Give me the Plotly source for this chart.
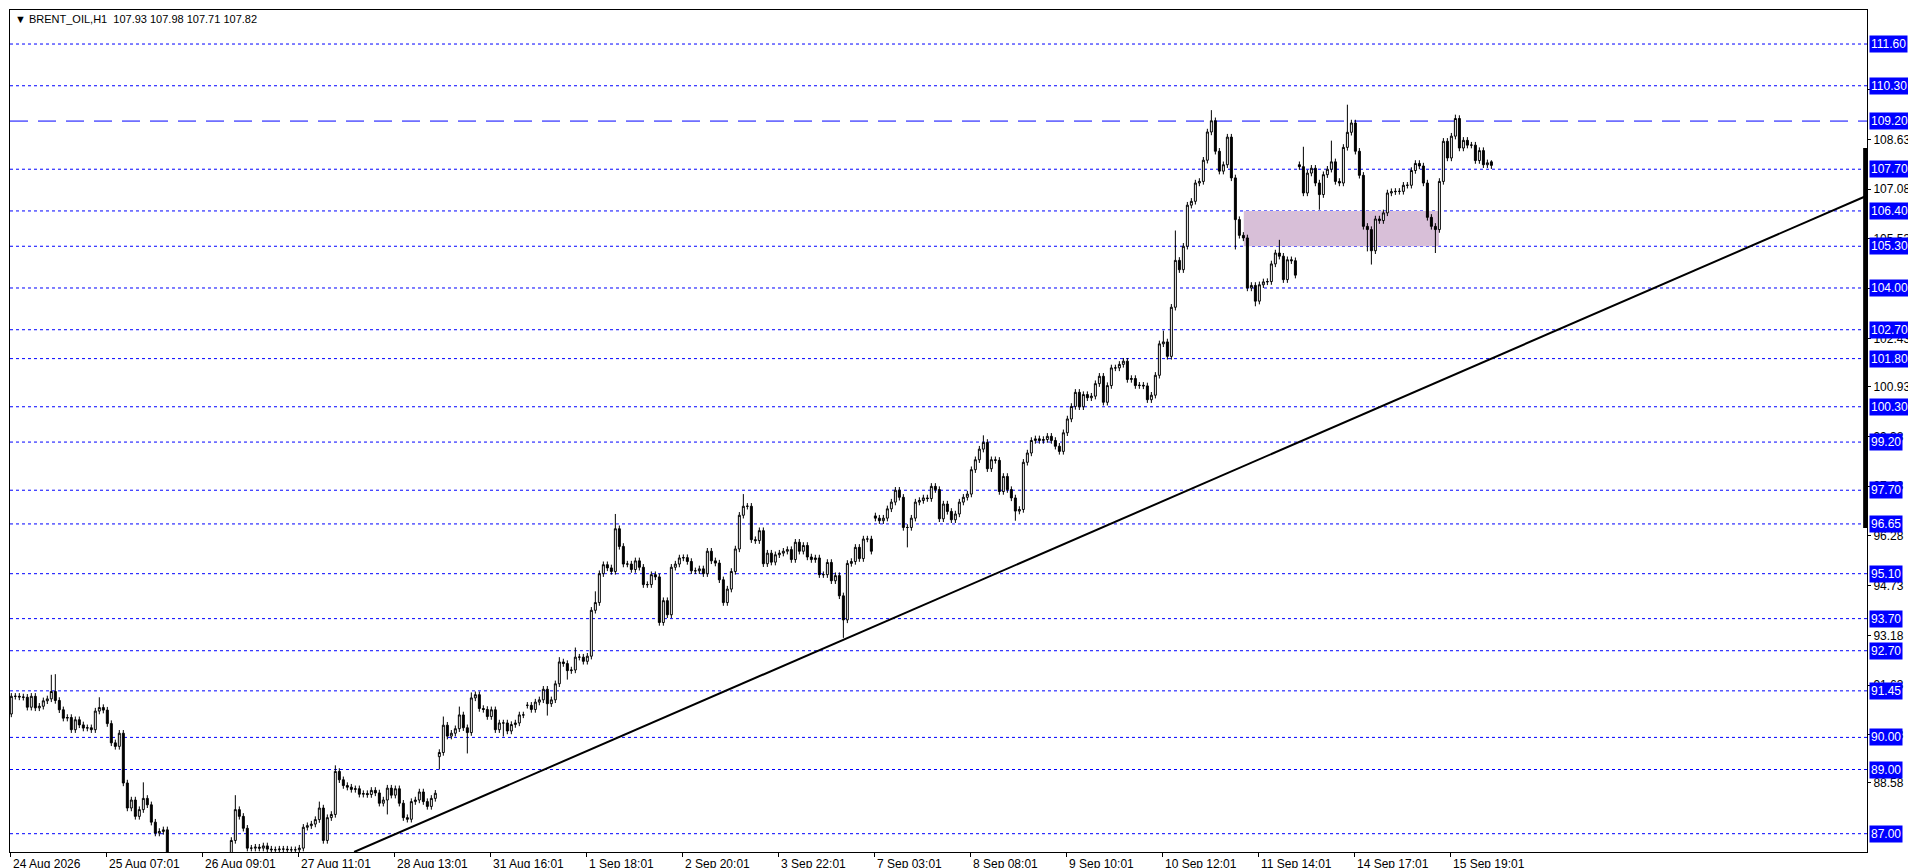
import plotly.graph_objects as go

closes = [
91.28, 91.28, 91.26, 91.25, 90.94, 91.28, 90.92, 90.97, 91.14, 91.2,
91.43, 91.15, 90.86, 90.6, 90.62, 90.24, 90.55, 90.39, 90.29, 90.3,
90.24, 90.82, 90.93, 90.85, 90.43, 89.83, 89.72, 90.13, 88.58, 87.8,
88.05, 87.54, 87.75, 88.1, 87.9, 87.36, 87.02, 87.07, 87.12, 86.3,
86.0, 85.8, 85.9, 85.7, 85.6, 85.8, 85.9, 86.0, 85.9, 86.1,
86.0, 86.2, 86.1, 86.0, 86.3,
86.79, 87.75, 87.54, 87.17, 86.55,
86.55, 86.58, 86.55, 86.62, 86.52, 86.5, 86.5, 86.52, 86.52, 86.5,
86.5, 86.5, 86.55, 87.2, 87.25, 87.3, 87.44, 87.8, 86.79, 87.5,
87.6, 88.94, 88.68, 88.5, 88.45, 88.38, 88.4, 88.23, 88.25, 88.22,
88.35, 88.27, 87.95, 88.05, 88.42, 88.2, 88.4, 87.95, 87.5, 87.45,
88.0, 88.05, 88.3, 88.0, 87.85, 88.1, 88.26, 89.53, 90.38, 90.04,
90.13, 90.27, 90.7, 90.3, 90.15, 91.23, 91.33, 90.9, 90.87, 90.65,
90.86, 90.24, 90.45, 90.45, 90.2, 90.4, 90.45, 90.7, 90.7, 91.0,
90.87, 91.1, 91.17, 91.5, 91.05, 91.17, 91.67, 92.35, 92.3, 92.08,
92.1, 92.5, 92.5, 92.37, 92.53, 93.96, 94.2, 95.1, 95.38, 95.28,
95.17, 96.5, 95.95, 95.4, 95.4, 95.23, 95.5, 95.3, 94.76, 94.76,
95.07, 95.0, 93.58, 94.26, 93.82, 95.3, 95.4, 95.59, 95.6, 95.48,
95.19, 95.19, 95.25, 95.1, 95.8, 95.5, 95.43, 94.91, 94.2, 94.62,
95.17, 95.87, 96.92, 97.2, 97.2, 96.16, 96.13, 96.44, 95.41, 95.74,
95.46, 95.69, 95.74, 95.8, 95.85, 95.54, 96.08, 95.8, 95.98, 95.62,
95.54, 95.59, 95.07, 95.07, 95.45, 94.88, 95.04, 94.41, 93.66, 95.42,
95.48, 95.92, 95.57, 96.18, 96.18, 95.8, 96.83, 96.75, 96.83, 97.12,
97.33, 97.7, 97.48, 96.54, 96.54, 96.83, 97.33, 97.38, 97.46, 97.44,
97.82, 97.72, 96.81, 97.27, 97.04, 96.78, 96.96, 97.33, 97.48, 97.58,
98.34, 98.65, 98.98, 99.19, 98.37, 98.65, 98.63, 97.66, 98.13, 97.72,
97.46, 97.05, 97.1, 98.57, 98.86, 99.25, 99.3, 99.25, 99.28, 99.38,
99.25, 99.07, 98.91, 99.49, 99.92, 100.31, 100.75, 100.3, 100.68, 100.58,
100.63, 101.02, 101.25, 100.44, 100.96, 101.51, 101.51, 101.62, 101.72, 101.15,
101.18, 100.96, 100.97, 100.95, 100.52, 100.66, 101.28, 102.26, 102.32, 101.87,
103.4, 104.86, 104.57, 105.3, 106.58, 106.7, 107.27, 107.32, 107.98, 108.86,
109.21, 108.26, 107.64, 107.84, 108.7, 107.43, 106.13, 105.64, 105.56, 104.0,
104.08, 103.59, 104.1, 104.19, 104.2, 104.75, 105.09, 104.99, 104.26, 104.88,
104.85, 104.4, 107.78, 106.96, 107.58, 107.73, 107.27, 106.91, 107.53, 107.7,
107.93, 107.32, 107.27, 108.38, 108.85, 109.14, 108.26, 107.51, 105.92, 105.82,
105.16, 106.15, 106.1, 106.34, 106.96, 107.0, 107.01, 107.01, 107.2, 107.2,
107.66, 107.88, 107.8, 107.27, 106.2, 105.92, 105.82, 107.32, 108.57, 108.05,
108.73, 109.28, 108.36, 108.6, 108.45, 108.45, 107.97, 108.28, 107.84, 107.9, 107.82,
]
first_open = 90.73
gap_opens = {107: 89.4, 129: 91.0, 216: 96.9, 322: 107.84, 370: 107.93}
wick = 0.1
high_marks = {10: 91.95, 11: 91.97, 22: 91.25, 33: 88.6, 56: 88.2, 77: 88.0, 81: 89.13,
              108: 90.65, 112: 90.96, 115: 91.4, 137: 92.5, 141: 92.8, 146: 94.55, 151: 96.96,
              183: 97.58, 243: 99.41, 288: 102.67, 291: 105.79, 300: 109.54, 317: 105.5,
              323: 108.4, 330: 108.59, 334: 109.71, 361: 109.4, 370: 107.98}
low_marks = {94: 87.6, 107: 89.0, 114: 89.5, 123: 90.03, 134: 90.68, 139: 91.8, 208: 93.1,
             224: 95.92, 251: 96.75, 306: 105.2, 311: 103.43, 327: 106.44, 339: 105.14,
             340: 104.73, 356: 105.09, 370: 107.71}

levels = [111.60, 110.30, 109.20, 107.70, 106.40, 105.30, 104.00, 102.70, 101.80, 100.30,
          99.20, 97.70, 96.65, 95.10, 93.70, 92.70, 91.45, 90.00, 89.00, 87.00]
dashed_level = 109.20
scale_ticks = [110.18, 108.63, 107.08, 105.53, 103.98, 102.43, 100.93, 99.38, 97.83,
               96.28, 94.73, 93.18, 91.63, 90.08, 88.58]
date_labels = ["24 Aug 2026", "25 Aug 07:01", "26 Aug 09:01", "27 Aug 11:01", "28 Aug 13:01",
               "31 Aug 16:01", "1 Sep 18:01", "2 Sep 20:01", "3 Sep 22:01", "7 Sep 03:01",
               "8 Sep 08:01", "9 Sep 10:01", "10 Sep 12:01", "11 Sep 14:01", "14 Sep 17:01",
               "15 Sep 19:01"]
bars_per_label = 24
trend_start = (85.7, 86.43)
trend_end = (463.4, 106.85)
zone_x = (308.1, 356.9)
zone_y = (105.3, 106.4)
title = "\u25bc BRENT_OIL,H1  107.93 107.98 107.71 107.82"

n = len(closes)
xs = list(range(n))
opens = [first_open] + closes[:-1]
for k, v in gap_opens.items():
    opens[k] = v
highs = [high_marks.get(i, max(opens[i], closes[i]) + wick) for i in xs]
lows = [low_marks.get(i, min(opens[i], closes[i]) - wick) for i in xs]

W, H = 1916, 868
XR = [-0.33, 463.9]
YR = [86.43, 112.66]
FONT = "Liberation Sans"

fig = go.Figure()
fig.add_shape(type="rect", x0=zone_x[0], x1=zone_x[1], y0=zone_y[0], y1=zone_y[1],
              fillcolor="#d8bfd8", line_width=0, layer="below")
for lv in levels:
    fig.add_shape(type="line", xref="paper", x0=0, x1=1, y0=lv, y1=lv, layer="below",
                  line=dict(color="#0000ff", width=1,
                            dash="18px,10px" if lv == dashed_level else "3px,3px"))
fig.add_trace(go.Candlestick(
    x=xs, open=opens, high=highs, low=lows, close=closes,
    increasing=dict(line=dict(color="black", width=1), fillcolor="white"),
    decreasing=dict(line=dict(color="black", width=1), fillcolor="black"),
    whiskerwidth=0, showlegend=False, hoverinfo="skip"))
fig.add_shape(type="line", x0=trend_start[0], y0=trend_start[1], x1=trend_end[0], y1=trend_end[1],
              line=dict(color="black", width=2))
fig.add_shape(type="line", xref="paper", x0=0.999, x1=0.999, y0=96.52, y1=108.36,
              line=dict(color="black", width=4))

for lv in levels:
    fig.add_annotation(xref="paper", x=1, y=lv, xanchor="left", yanchor="middle", xshift=2,
                       text=f"{lv:.2f}", showarrow=False, bgcolor="#0000ff",
                       font=dict(color="white", size=12, family=FONT), borderpad=1)
for k, lab in enumerate(date_labels):
    fig.add_annotation(x=k * bars_per_label - 0.3, xref="x", y=0, yref="paper",
                       yanchor="top", xanchor="left", yshift=-3, xshift=1, text=lab,
                       showarrow=False, font=dict(size=12, color="black", family=FONT))
fig.add_annotation(xref="paper", yref="paper", x=0, y=1, xanchor="left", yanchor="top",
                   xshift=3, yshift=-1, text=title, showarrow=False,
                   font=dict(size=11, color="black", family=FONT))

fig.update_layout(
    width=W, height=H, margin=dict(l=2, r=57, t=2, b=24),
    paper_bgcolor="white", plot_bgcolor="white",
    xaxis=dict(range=XR, rangeslider=dict(visible=False), showgrid=False, zeroline=False,
               tickvals=[k * bars_per_label - 0.3 for k in range(len(date_labels))],
               ticktext=[""] * len(date_labels), ticks="outside", ticklen=4,
               tickcolor="black", showline=True, linecolor="black", mirror=True),
    yaxis=dict(range=YR, side="right", showgrid=False, zeroline=False,
               tickvals=scale_ticks, ticktext=[f"{t:.2f}" for t in scale_ticks],
               ticks="outside", ticklen=3, tickcolor="black",
               tickfont=dict(size=12, color="black", family=FONT),
               showline=True, linecolor="black", mirror=True),
)
fig.write_html("out.html")
